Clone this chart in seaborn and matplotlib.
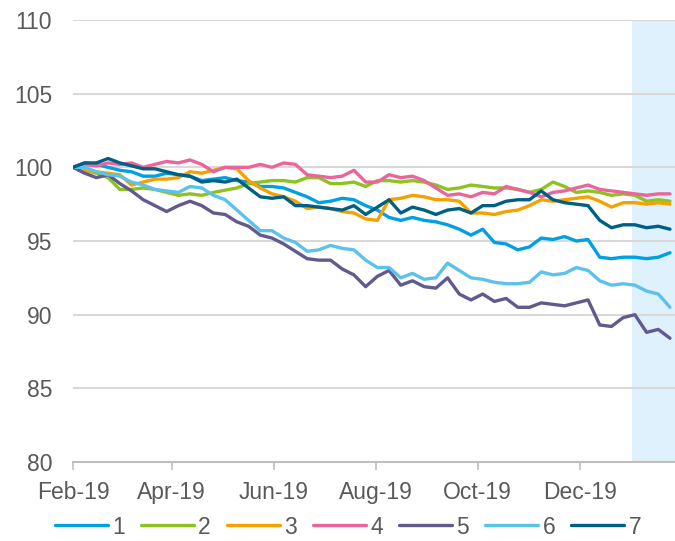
import matplotlib
matplotlib.use("Agg")
import matplotlib.pyplot as plt
import matplotlib.dates as mdates
import seaborn as sns
import pandas as pd
import numpy as np

# ---- data (weekly readings, index = 100 at start) ----
start_date = "2019-02-01"
n_weeks = 52
series_names = ["1", "2", "3", "4", "5", "6", "7"]

s1 = [100.0, 100.3, 100.2, 100.0, 99.8, 99.7, 99.4, 99.4, 99.6, 99.5, 99.4, 99.1, 99.2,
      99.3, 99.1, 99.0, 98.7, 98.7, 98.6, 98.3, 98.0, 97.6, 97.7, 97.9, 97.8, 97.4,
      97.1, 96.6, 96.4, 96.6, 96.4, 96.3, 96.1, 95.8, 95.4, 95.8, 94.9, 94.8, 94.4,
      94.6, 95.2, 95.1, 95.3, 95.0, 95.1, 93.9, 93.8, 93.9, 93.9, 93.8, 93.9, 94.2]
s2 = [100.0, 99.8, 99.6, 99.3, 98.5, 98.5, 98.6, 98.5, 98.3, 98.1, 98.2, 98.1, 98.3,
      98.45, 98.6, 98.9, 99.0, 99.1, 99.1, 99.0, 99.3, 99.3, 98.9, 98.9, 99.0, 98.7,
      99.1, 99.1, 99.0, 99.1, 99.0, 98.8, 98.5, 98.6, 98.8, 98.7, 98.6, 98.6, 98.5,
      98.3, 98.5, 99.0, 98.7, 98.3, 98.4, 98.3, 98.1, 98.2, 98.1, 97.7, 97.8, 97.7]
s3 = [100.0, 99.8, 99.7, 99.6, 99.5, 98.8, 99.0, 99.2, 99.2, 99.3, 99.7, 99.6, 99.8,
      100.0, 99.9, 99.1, 98.6, 98.2, 98.0, 97.7, 97.2, 97.3, 97.2, 97.0, 96.9, 96.5,
      96.4, 97.8, 97.9, 98.1, 98.0, 97.8, 97.8, 97.7, 96.9, 96.9, 96.8, 97.0, 97.1,
      97.4, 97.8, 97.7, 97.8, 97.9, 98.0, 97.7, 97.3, 97.6, 97.6, 97.5, 97.6, 97.5]
s4 = [100.0, 100.2, 100.1, 100.3, 100.2, 100.3, 100.0, 100.2, 100.4, 100.3, 100.5, 100.2,
      99.7, 100.0, 100.0, 100.0, 100.2, 100.0, 100.3, 100.2, 99.5, 99.4, 99.3, 99.4,
      99.8, 99.0, 99.0, 99.5, 99.3, 99.4, 99.1, 98.6, 98.1, 98.2, 98.0, 98.3, 98.2,
      98.7, 98.5, 98.3, 98.0, 98.3, 98.4, 98.6, 98.8, 98.5, 98.4, 98.3, 98.2, 98.1,
      98.2, 98.2]
s5 = [100.0, 99.6, 99.3, 99.5, 98.9, 98.4, 97.8, 97.4, 97.0, 97.4, 97.7, 97.4, 96.9,
      96.8, 96.3, 96.0, 95.4, 95.2, 94.8, 94.3, 93.8, 93.7, 93.7, 93.1, 92.7, 91.9,
      92.6, 93.0, 92.0, 92.3, 91.9, 91.8, 92.5, 91.4, 91.0, 91.4, 90.9, 91.1, 90.5,
      90.5, 90.8, 90.7, 90.6, 90.8, 91.0, 89.3, 89.2, 89.8, 90.0, 88.8, 89.0, 88.4]
s6 = [100.0, 100.0, 99.7, 99.5, 99.4, 99.0, 98.8, 98.5, 98.4, 98.3, 98.7, 98.6, 98.1,
      97.8, 97.1, 96.4, 95.7, 95.7, 95.2, 94.9, 94.3, 94.4, 94.7, 94.5, 94.4, 93.7,
      93.2, 93.2, 92.5, 92.8, 92.4, 92.5, 93.5, 93.0, 92.5, 92.4, 92.2, 92.1, 92.1,
      92.2, 92.9, 92.7, 92.8, 93.2, 93.0, 92.3, 92.0, 92.1, 92.0, 91.6, 91.4, 90.5]
s7 = [100.0, 100.3, 100.3, 100.6, 100.3, 100.1, 99.9, 99.9, 99.7, 99.5, 99.4, 99.0, 99.1,
      99.0, 99.2, 98.6, 98.0, 97.9, 98.0, 97.4, 97.4, 97.3, 97.2, 97.1, 97.4, 96.8,
      97.3, 97.8, 96.9, 97.3, 97.1, 96.8, 97.1, 97.2, 96.9, 97.4, 97.4, 97.7, 97.8,
      97.8, 98.4, 97.8, 97.6, 97.5, 97.4, 96.4, 95.9, 96.1, 96.1, 95.9, 96.0, 95.8]

y_ticks = [80, 85, 90, 95, 100, 105, 110]
shade_start = "2020-01-01"
x_end = "2020-01-27"

colors = ["#00a0e3", "#8dc21f", "#f7a100", "#ea6599", "#625a8f", "#5bc2ec", "#005f86"]

# ---- build long table ----
dates = pd.date_range(start_date, periods=n_weeks, freq="7D")
all_vals = [s1, s2, s3, s4, s5, s6, s7]
frames = []
for name, vals in zip(series_names, all_vals):
    frames.append(pd.DataFrame({"date": dates, "value": vals, "series": name}))
df = pd.concat(frames, ignore_index=True)

sns.set_theme(style="white")
plt.rcParams["font.family"] = ["Liberation Sans", "DejaVu Sans"]

fig = plt.figure(figsize=(6.75, 5.41), dpi=100)
ax = fig.add_axes([73 / 675, 1 - 462 / 541, 1 - 73 / 675, (462 - 20) / 541])

ax.axvspan(pd.Timestamp(shade_start), pd.Timestamp(x_end), color="#def1fc", zorder=0, lw=0)

for yv in y_ticks[1:]:
    ax.axhline(yv, color="#d9d9d9", lw=1.5, zorder=0.5)

sns.lineplot(data=df, x="date", y="value", hue="series", palette=dict(zip(series_names, colors)),
             linewidth=2.4, ax=ax, zorder=2)

ax.set_xlim(pd.Timestamp(start_date), pd.Timestamp(x_end))
ax.set_ylim(80, 110)
ax.set_yticks(y_ticks)
ax.xaxis.set_major_locator(mdates.MonthLocator(bymonth=[2, 4, 6, 8, 10, 12]))
ax.xaxis.set_major_formatter(mdates.DateFormatter("%b-%y"))
ax.set_xlabel("")
ax.set_ylabel("")

for sp in ["left", "top", "right"]:
    ax.spines[sp].set_visible(False)
ax.spines["bottom"].set_color("#bfbfbf")
ax.spines["bottom"].set_linewidth(1.5)

ax.tick_params(axis="y", length=0, pad=15, labelsize=16.5, labelcolor="#595959")
ax.tick_params(axis="x", length=6, width=1.2, color="#bfbfbf", pad=8, labelsize=16.5,
               labelcolor="#595959", direction="out", bottom=True)

handles, labels = ax.get_legend_handles_labels()
ax.get_legend().remove()
fig.legend(handles, labels, loc="center", bbox_to_anchor=(348 / 675, 1 - 527 / 541),
           ncol=7, frameon=False, fontsize=16.5, handlelength=2.3, handletextpad=0.2,
           columnspacing=0.7, labelcolor="#595959")

fig.savefig("out.png", dpi=100)
